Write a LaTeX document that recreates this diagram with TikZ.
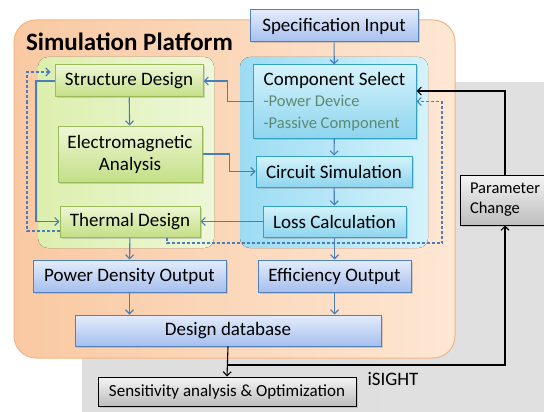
\documentclass[tikz,border=0pt]{standalone}
\usepackage{fontspec}
\setmainfont{Carlito}
\usetikzlibrary{arrows.meta,shadows}
\definecolor{platFill}{HTML}{F9C9A2}
\definecolor{platFillR}{HTML}{FEE7D4}
\definecolor{platBorder}{HTML}{F2B585}
\definecolor{mechBG}{HTML}{DCEFAE}
\definecolor{mechBGR}{HTML}{EEF7D8}
\definecolor{elecBG}{HTML}{9CDCF3}
\definecolor{elecBGR}{HTML}{D4F2FB}
\definecolor{greenTop}{HTML}{EEF7D5}
\definecolor{greenBot}{HTML}{C3DF86}
\definecolor{greenBorder}{HTML}{9BBB59}
\definecolor{cyanTop}{HTML}{D5F3FC}
\definecolor{cyanBot}{HTML}{8ED5EE}
\definecolor{cyanBorder}{HTML}{31A2C4}
\definecolor{blueTop}{HTML}{E4ECFB}
\definecolor{blueBot}{HTML}{A6BFEE}
\definecolor{blueBorder}{HTML}{4F81BD}
\definecolor{grayTop}{HTML}{F4F4F4}
\definecolor{grayBot}{HTML}{BDBDBD}
\definecolor{subText}{HTML}{5E8A70}
\definecolor{arrowBlue}{HTML}{4A7EBB}

\begin{document}
\begin{tikzpicture}[
  x=1pt,y=-1pt,
  every node/.style={font=\fontsize{19}{22}\selectfont,inner sep=0pt},
  nshadow/.style={drop shadow={opacity=0.3,shadow xshift=1.5pt,shadow yshift=-1.5pt}},
  gnode/.style={draw=greenBorder,line width=1pt,top color=greenTop,bottom color=greenBot,nshadow},
  cnode/.style={draw=cyanBorder,line width=1pt,top color=cyanTop,bottom color=cyanBot,nshadow},
  bnode/.style={draw=blueBorder,line width=1pt,top color=blueTop,bottom color=blueBot,nshadow},
  knode/.style={draw=black,line width=1pt,top color=grayTop,bottom color=grayBot,nshadow},
  arr/.style={-{Straight Barb[length=4pt,width=8pt]},line width=1.1pt,arrowBlue},
  darr/.style={arr,dash pattern=on 3pt off 2pt},
  karr/.style={-{Straight Barb[length=4pt,width=8pt]},line width=1.1pt,black}
]
  \useasboundingbox (0,0) rectangle (544,412);

  % --- backgrounds ---
  \shade[left color=black!13,middle color=black!6,right color=black!12] (82,83) rectangle (544,412);
  \draw[platBorder,line width=1pt,rounded corners=22pt,left color=platFill,right color=platFillR]
    (14,20) rectangle (455,358);
  \fill[rounded corners=10pt,left color=mechBG,right color=mechBGR] (38,57) rectangle (214,248);
  \fill[rounded corners=10pt,left color=elecBG,right color=elecBGR] (240,57) rectangle (428,248);
  \node[font=\fontsize{25}{28}\selectfont\bfseries] (title) at (129.5,42) {Simulation Platform};

  % --- nodes ---
  \node[bnode,minimum width=168pt,minimum height=32pt] (spec) at (334,26) {Specification Input};
  \node[cnode,minimum width=163pt,minimum height=73pt,align=left] (cs) at (334.5,101.5)
    {Component Select\\[-1pt]{\fontsize{16.5}{20}\selectfont\color{subText}-Power Device}\\
     {\fontsize{16.5}{20}\selectfont\color{subText}-Passive Component}};
  \node[cnode,minimum width=156pt,minimum height=31pt] (cir) at (334,171.5) {Circuit Simulation};
  \node[cnode,minimum width=143pt,minimum height=31pt] (lc) at (334.5,221.5) {Loss Calculation};

  \node[gnode,minimum width=148pt,minimum height=32pt] (sd) at (129,81) {Structure Design};
  \node[gnode,minimum width=144pt,minimum height=56pt,align=center] (ea) at (130,154)
    {Electromagnetic\\Analysis};
  \node[gnode,minimum width=140pt,minimum height=31pt] (td) at (130,221.5) {Thermal Design};

  \node[bnode,minimum width=193pt,minimum height=32pt] (pdo) at (129.5,276) {Power Density Output};
  \node[bnode,minimum width=153pt,minimum height=32pt] (eo) at (334.5,276) {Efficiency Output};
  \node[bnode,minimum width=306pt,minimum height=31pt] (db) at (228,330.5) {Design database};

  \node[knode,minimum width=258pt,minimum height=29pt,font=\fontsize{17}{20}\selectfont]
    (sens) at (227,391.5) {Sensitivity analysis \& Optimization};
  \node[knode,minimum width=90pt,minimum height=50pt,align=left,font=\fontsize{16.5}{20}\selectfont]
    (pc) at (505,200) {Parameter\\Change};
  \node (isight) at (393,379) {iSIGHT};

  % --- helper points ---
  \coordinate (sl) at (36,150);
  \coordinate (dl) at (27,72);
  \coordinate (dr) at (442,243);
  \coordinate (jn) at (228,365);

  % --- blue flow ---
  \draw[arr] (spec) -- (cs);
  \draw[arr] (cs) -- (cir);
  \draw[arr] (cir) -- (lc);
  \draw[arr] (lc) -- (eo);
  \draw[arr] (sd) -- (ea);
  \draw[arr] (td) -- (pdo);
  \draw[arr] (pdo.south) -- (pdo.south |- db.north);
  \draw[arr] (eo.south) -- (eo.south |- db.north);
  \draw[arr] (cs.west) -- ++(-25,0) |- (sd.east);
  \draw[arr] (ea.east) -- ++(27,0) |- (cir.west);
  \draw[arr] (lc.west) -- (td.east);
  \draw[arr] (sd.west) -| (sl) |- (td.west);

  % feedback (dashed)
  \draw[darr,shorten >=4pt] ([yshift=-9.5pt]td.west) -| (dl) -- (dl -| sd.west);
  \draw[darr] ([xshift=37pt]td.south) |- (dr) |- (cs.east);

  % --- optimisation loop ---
  \draw[karr] (db.south) -- (sens.north);
  \draw[karr] (jn) -| (pc.south);
  \draw[karr] (pc.north) |- ([yshift=10.5pt]cs.east);
\end{tikzpicture}
\end{document}
